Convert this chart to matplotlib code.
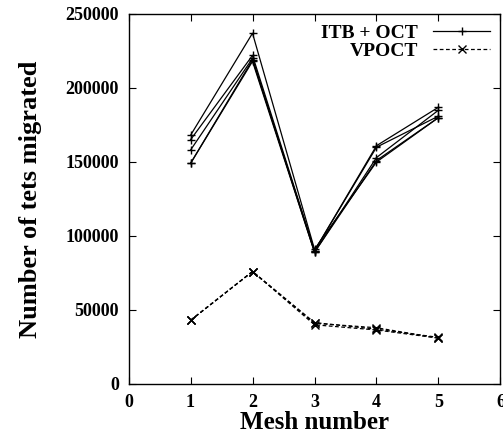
import matplotlib
matplotlib.use('Agg')
import matplotlib.pyplot as plt

# mesh numbers on the x axis
mesh = [1, 2, 3, 4, 5]

# ITB + OCT runs (solid, '+')
itb_runs = [
    [168000, 237000, 91000, 150000, 180000],
    [165000, 222000, 90000, 161000, 187000],
    [158000, 220000, 89000, 153000, 185000],
    [149000, 219000, 90000, 160000, 181000],
    [149000, 218000, 89000, 151000, 180000],
]

# VPOCT runs (dashed, 'x')
vpoct_runs = [
    [43000, 76000, 41000, 38000, 31000],
    [43000, 76000, 40000, 36500, 31000],
    [43000, 76000, 41500, 37000, 31500],
]

xticks = [0, 1, 2, 3, 4, 5, 6]
yticks = [0, 50000, 100000, 150000, 200000, 250000]

plt.rcParams['font.family'] = ['Liberation Serif', 'DejaVu Serif']
plt.rcParams['font.weight'] = 'bold'

fig = plt.figure(figsize=(5.03, 4.33), dpi=100)
ax = fig.add_axes([0.2555, 0.1132, 0.7395, 0.8545])

for i, run in enumerate(itb_runs):
    ax.plot(mesh, run, color='black', linewidth=0.9, marker='+', markersize=6,
            markeredgewidth=1.0, label='ITB + OCT' if i == 0 else None)

for i, run in enumerate(vpoct_runs):
    ax.plot(mesh, run, color='black', linewidth=0.9, linestyle=(0, (3, 2)),
            marker='x', markersize=6, markeredgewidth=1.0,
            label='VPOCT' if i == 0 else None)

ax.set_xlim(0, 6)
ax.set_ylim(0, 250000)
ax.set_xticks(xticks)
ax.set_yticks(yticks)
ax.tick_params(direction='in', length=5, width=0.8, top=True, right=True,
               labelsize=13, pad=7)
for lab in ax.get_xticklabels() + ax.get_yticklabels():
    lab.set_fontweight('bold')

ax.set_xlabel('Mesh number', fontsize=18, fontweight='bold', labelpad=0)
ax.set_ylabel('Number of tets migrated', fontsize=19, fontweight='bold', labelpad=17)

leg = ax.legend(loc='upper right', frameon=False, markerfirst=False,
                handlelength=2.9, fontsize=14, borderaxespad=0.35,
                borderpad=0.2, labelspacing=0.0, handletextpad=0.8)
for t in leg.get_texts():
    t.set_fontweight('bold')
    t.set_ha('right')

for s in ax.spines.values():
    s.set_linewidth(1.0)

plt.savefig('out.png', dpi=100)
